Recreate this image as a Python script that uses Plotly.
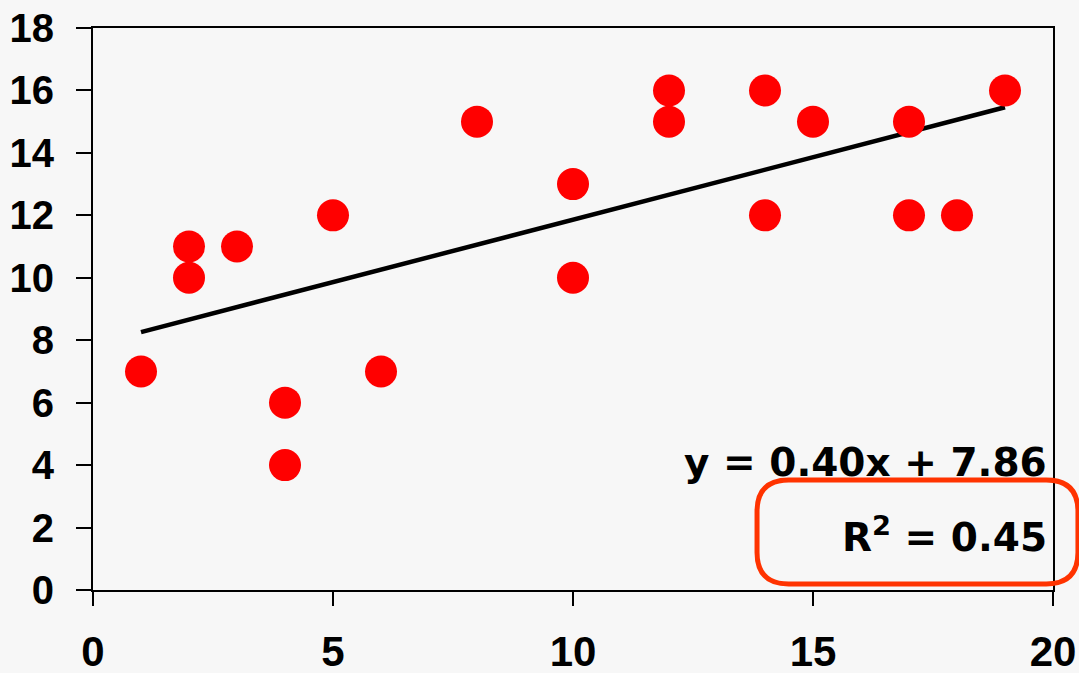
import plotly.graph_objects as go

x_vals = [1, 2, 2, 3, 4, 4, 5, 6, 8, 10, 10, 12, 12, 14, 14, 15, 17, 17, 18, 19]
y_vals = [7, 11, 10, 11, 6, 4, 12, 7, 15, 13, 10, 16, 15, 16, 12, 15, 15, 12, 12, 16]
slope = 0.40
intercept = 7.86
r_squared = 0.45
x_ticks = [0, 5, 10, 15, 20]
y_ticks = [0, 2, 4, 6, 8, 10, 12, 14, 16, 18]

trend_x = sorted(set(x_vals))
trend_y = [slope * v + intercept for v in trend_x]

fig = go.Figure()
fig.add_trace(go.Scatter(x=trend_x, y=trend_y, mode="lines",
                         line=dict(color="black", width=4.5), hoverinfo="skip"))
fig.add_trace(go.Scatter(x=x_vals, y=y_vals, mode="markers",
                         marker=dict(color="#ff0000", size=32, line=dict(width=0))))

tick_font_y = dict(family="Liberation Sans, Arial", size=40, color="black", weight="bold")
tick_font_x = dict(family="Liberation Sans Narrow, Liberation Sans, Arial", size=42, color="black", weight="bold")

fig.update_layout(
    width=1079, height=673,
    margin=dict(l=93, r=26, t=28, b=83),
    paper_bgcolor="#f7f7f7", plot_bgcolor="#f7f7f7",
    showlegend=False,
    xaxis=dict(range=[0, 20], tickvals=x_ticks, ticktext=[str(v) for v in x_ticks],
               showgrid=False, zeroline=False, showline=True, linecolor="black", linewidth=2,
               mirror=True, ticks="outside", ticklen=14, tickwidth=2, tickcolor="black",
               tickfont=tick_font_x, ticklabelstandoff=10, automargin=False),
    yaxis=dict(range=[0, 18], tickvals=y_ticks, ticktext=[str(v) for v in y_ticks],
               showgrid=False, zeroline=False, showline=True, linecolor="black", linewidth=2,
               mirror=True, ticks="outside", ticklen=15, tickwidth=2, tickcolor="black",
               tickfont=tick_font_y, ticklabelstandoff=14, automargin=False),
)

eq_font = dict(family="DejaVu Sans, Comic Sans MS", size=39, color="black", weight="bold")
fig.add_annotation(xref="paper", yref="paper", x=0.996, y=(590 - 462) / 562,
                   xanchor="right", yanchor="middle", showarrow=False,
                   text=f"y = {slope:.2f}x + {intercept:.2f}", font=eq_font)
fig.add_annotation(xref="paper", yref="paper", x=0.996, y=(590 - 535) / 562,
                   xanchor="right", yanchor="middle", showarrow=False,
                   text=f"R<sup>2</sup> = {r_squared:.2f}", font=eq_font)

# rounded highlight box around R^2
x0, x1 = 0.6917, 1.026
y0, y1 = 0.0107, 0.1957
rx, ry = 0.033, 0.056
path = (f"M {x0+rx},{y0} L {x1-rx},{y0} Q {x1},{y0} {x1},{y0+ry} "
        f"L {x1},{y1-ry} Q {x1},{y1} {x1-rx},{y1} "
        f"L {x0+rx},{y1} Q {x0},{y1} {x0},{y1-ry} "
        f"L {x0},{y0+ry} Q {x0},{y0} {x0+rx},{y0} Z")
fig.add_shape(type="path", xref="paper", yref="paper", path=path,
              line=dict(color="#ff3300", width=5), fillcolor="rgba(0,0,0,0)", layer="above")

fig.write_html("out.html", config={"displayModeBar": False},
               post_script="document.body.style.margin='0';document.body.style.overflow='hidden';")
